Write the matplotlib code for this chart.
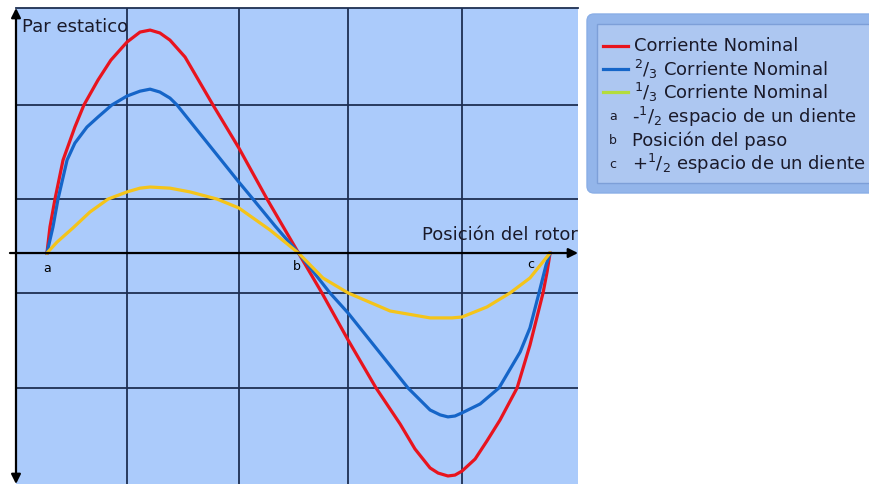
import numpy as np
import matplotlib.pyplot as plt
from matplotlib.patches import FancyBboxPatch, Rectangle
from matplotlib.lines import Line2D
from matplotlib.transforms import IdentityTransform

# rotor position (a = 0, b = 1, c = 2) and static torque (rated peak = 1)
x_red = [0.0, 0.012, 0.032, 0.064, 0.111, 0.147, 0.203, 0.254, 0.318, 0.370,
         0.410, 0.449, 0.489, 0.549, 0.660, 0.763, 0.875, 1.0, 1.093, 1.197,
         1.308, 1.404, 1.463, 1.523, 1.555, 1.594, 1.622, 1.650, 1.702, 1.749,
         1.801, 1.869, 1.920, 1.972, 1.988, 2.0]
y_red = [0.0, 0.117, 0.242, 0.417, 0.565, 0.664, 0.776, 0.865, 0.946, 0.991,
         1.0, 0.987, 0.955, 0.879, 0.664, 0.471, 0.242, 0.0, -0.179, -0.390,
         -0.605, -0.767, -0.879, -0.964, -0.987, -1.0, -0.996, -0.978, -0.924,
         -0.843, -0.749, -0.605, -0.413, -0.179, -0.085, 0.0]

x_blue = [0.0, 0.024, 0.044, 0.080, 0.111, 0.159, 0.203, 0.258, 0.318, 0.370,
          0.410, 0.449, 0.489, 0.517, 0.763, 0.819, 0.907, 1.0, 1.125,
          1.197, 1.435, 1.523, 1.563, 1.594, 1.622, 1.650, 1.722, 1.797, 1.881,
          1.920, 1.956, 1.984, 2.0]
y_blue = [0.0, 0.117, 0.242, 0.417, 0.493, 0.565, 0.610, 0.664, 0.704,
          0.726, 0.735, 0.722, 0.695, 0.664, 0.318, 0.242, 0.121, 0.0, -0.179,
          -0.269, -0.605, -0.704, -0.726, -0.735, -0.731, -0.717, -0.677,
          -0.605, -0.444, -0.336, -0.179, -0.054, 0.0]

x_yel = [0.0, 0.040, 0.103, 0.171, 0.243, 0.318, 0.370, 0.410, 0.489, 0.569,
         0.676, 0.763, 0.887, 1.0, 1.097, 1.197, 1.364, 1.523, 1.610, 1.650,
         1.749, 1.841, 1.920, 2.0]
y_yel = [0.0, 0.049, 0.112, 0.184, 0.242, 0.274, 0.291, 0.296, 0.291, 0.274,
         0.242, 0.202, 0.103, 0.0, -0.112, -0.179, -0.260, -0.291, -0.291,
         -0.287, -0.242, -0.179, -0.112, 0.0]

grid_x = [0.318, 0.763, 1.197, 1.650]
grid_y = [0.664, 0.242, -0.179, -0.605]

point_names = ["a", "b", "c"]
legend_lines = ["Corriente Nominal",
                r"$^{2}/_{3}$ Corriente Nominal",
                r"$^{1}/_{3}$ Corriente Nominal"]
legend_points = [r"-$^{1}/_{2}$ espacio de un diente",
                 "Posición del paso",
                 r"+$^{1}/_{2}$ espacio de un diente"]

c_red = '#e8141e'
c_blue = '#1565c8'
c_yel = '#f4c41a'
c_yel_leg = '#b4dc3c'
c_grid = '#1e2f52'
c_text = '#1a1a2a'

W, H = 870, 484
fig = plt.figure(figsize=(W / 100, H / 100), dpi=100)

ax = fig.add_axes([16 / W, 0, 562 / W, 476 / H])
ax.set_facecolor('#abcbfb')
ax.set_xlim(-0.123, 2.111)
ax.set_ylim(-1.036, 1.099)
ax.set_xticks(grid_x)
ax.set_yticks(grid_y)
ax.tick_params(length=0, labelbottom=False, labelleft=False)
ax.grid(True, color=c_grid, linewidth=1.3)
for s in ['left', 'right', 'bottom']:
    ax.spines[s].set_visible(False)
ax.spines['top'].set_color(c_grid)
ax.spines['top'].set_linewidth(1.3)

ax.plot(x_red, y_red, color=c_red, lw=2.3, solid_joinstyle='round')
ax.plot(x_blue, y_blue, color=c_blue, lw=2.3, solid_joinstyle='round')
ax.plot(x_yel, y_yel, color=c_yel, lw=2.3, solid_joinstyle='round')

# ejes con flechas
ax.annotate('', xy=(2.111, 0), xytext=(-0.147, 0),
            arrowprops=dict(arrowstyle='-|>', color='black', lw=1.6,
                            mutation_scale=14, shrinkA=0, shrinkB=0),
            annotation_clip=False)
ax.annotate('', xy=(0, 1.0), xytext=(0, 0.0), xycoords='axes fraction',
            arrowprops=dict(arrowstyle='<|-|>', color='black', lw=1.6,
                            mutation_scale=14, shrinkA=0, shrinkB=0),
            annotation_clip=False)

ax.text(-0.099, 0.99, "Par estatico", fontsize=13, color=c_text,
        va='baseline', ha='left')
ax.text(1.491, 0.058, "Posición del rotor", fontsize=13, color=c_text,
        va='baseline', ha='left', clip_on=True)

ax.text(0.0, -0.07, point_names[0], fontsize=9, ha='center', va='center')
ax.text(0.995, -0.06, point_names[1], fontsize=9, ha='center', va='center')
ax.text(1.925, -0.05, point_names[2], fontsize=9, ha='center', va='center')

# leyenda (coordenadas en pixeles)
T = IdentityTransform()
outer = FancyBboxPatch((587, H - 193), 300, 179,
                       boxstyle='round,pad=0,rounding_size=7',
                       facecolor='#93b5ea', edgecolor='#8aaee6', lw=1,
                       transform=T)
inner = Rectangle((597, H - 183), 273, 159, facecolor='#adc7f1',
                  edgecolor='#7d9fd8', lw=1, transform=T)
fig.add_artist(outer)
fig.add_artist(inner)

leg_y = [46, 69, 92]
for yy, col, lab in zip(leg_y, [c_red, c_blue, c_yel_leg], legend_lines):
    fig.add_artist(Line2D([603, 628], [H - yy, H - yy], color=col, lw=2.3,
                          transform=T))
    fig.text(634 / W, 1 - yy / H, lab, fontsize=13, color=c_text,
             va='center', ha='left')

pt_y = [117, 141, 164]
for yy, name, lab in zip(pt_y, point_names, legend_points):
    fig.text(613 / W, 1 - yy / H, name, fontsize=9, color=c_text,
             va='center', ha='center')
    fig.text(632 / W, 1 - yy / H, lab, fontsize=13, color=c_text,
             va='center', ha='left')

fig.savefig('out.png', dpi=100, facecolor='white')
